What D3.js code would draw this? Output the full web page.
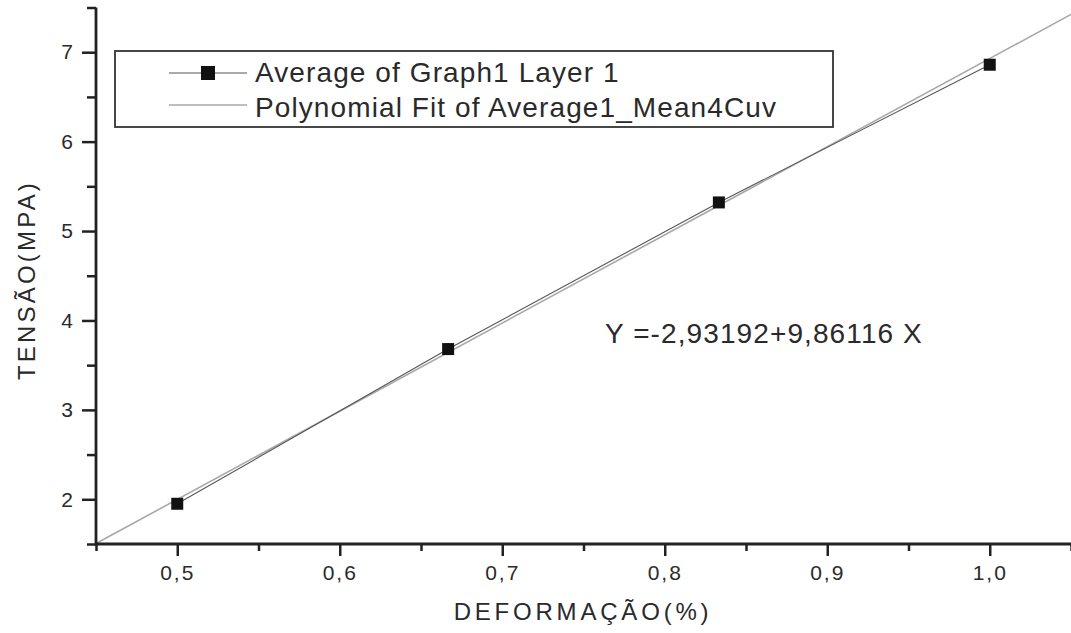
<!DOCTYPE html>
<html>
<head>
<meta charset="utf-8">
<script src="https://cdn.jsdelivr.net/npm/d3@7"></script>
<style>
  html, body { margin: 0; padding: 0; background: #fff; }
  svg { display: block; font-family: "Liberation Sans", Arial, sans-serif; }
</style>
</head>
<body>
<svg id="chart"></svg>
<script>
// Data
const deformacao = [0.5, 0.6667, 0.8333, 1.0];
const tensao = [1.95, 3.68, 5.32, 6.86];
const fitIntercept = -2.93192;
const fitSlope = 9.86116;
const xTicks = [0.5, 0.6, 0.7, 0.8, 0.9, 1.0];
const xMinorTicks = [0.45, 0.55, 0.65, 0.75, 0.85, 0.95, 1.05];
const yTicks = [2, 3, 4, 5, 6, 7];
const yMinorTicks = [1.5, 2.5, 3.5, 4.5, 5.5, 6.5, 7.5];
const legendLabels = ["Average of Graph1 Layer 1", "Polynomial Fit of Average1_Mean4Cuv"];
const equationText = "Y =-2,93192+9,86116 X";

const width = 1071;
const height = 633;
const marginLeft = 96;
const marginBottom = 89;
const marginTop = 7.5;

const x = d3.scaleLinear([0.45, 1.05], [marginLeft, width]);
const y = d3.scaleLinear([1.5, 7.5], [height - marginBottom, marginTop]);

const comma = d => d3.format(".1f")(d).replace(".", ",");

const svg = d3.select("#chart")
    .attr("width", width)
    .attr("height", height)
    .attr("viewBox", [0, 0, width, height]);

const ink = "#222";
const textInk = "#2a2a2a";

// fit line, drawn across the whole x domain
const fitPts = x.domain().map(v => ({ x: v, y: fitIntercept + fitSlope * v }));
svg.append("path")
    .attr("fill", "none")
    .attr("stroke", "#a8a8a8")
    .attr("stroke-width", 1.6)
    .attr("d", d3.line().x(d => x(d.x)).y(d => y(d.y))(fitPts));

// data line
const dataPts = deformacao.map((d, i) => ({ x: d, y: tensao[i] }));
svg.append("path")
    .attr("fill", "none")
    .attr("stroke", "#555")
    .attr("stroke-width", 1.1)
    .attr("d", d3.line().x(d => x(d.x)).y(d => y(d.y))(dataPts));

svg.append("g")
    .selectAll("rect")
    .data(dataPts)
    .join("rect")
    .attr("x", d => x(d.x) - 6)
    .attr("y", d => y(d.y) - 6)
    .attr("width", 12)
    .attr("height", 12)
    .attr("fill", "#111");

// x axis
const xAxisY = height - marginBottom;
svg.append("g")
    .attr("transform", `translate(0,${xAxisY})`)
    .call(d3.axisBottom(x).tickValues(xMinorTicks).tickSize(7).tickFormat(""))
    .call(g => g.select(".domain").remove())
    .call(g => g.selectAll(".tick line").attr("stroke", ink).attr("stroke-width", 2.5));

svg.append("g")
    .attr("transform", `translate(0,${xAxisY})`)
    .call(d3.axisBottom(x).tickValues(xTicks).tickSize(12).tickPadding(9).tickFormat(comma))
    .call(g => g.select(".domain").remove())
    .call(g => g.selectAll(".tick line").attr("stroke", ink).attr("stroke-width", 2.5))
    .call(g => g.selectAll(".tick text")
        .attr("fill", textInk)
        .attr("font-size", 21)
        .attr("letter-spacing", 2)
        .attr("font-family", "Liberation Sans, Arial, sans-serif"));

// y axis
svg.append("g")
    .attr("transform", `translate(${marginLeft},0)`)
    .call(d3.axisLeft(y).tickValues(yMinorTicks).tickSize(9).tickFormat(""))
    .call(g => g.select(".domain").remove())
    .call(g => g.selectAll(".tick line").attr("stroke", ink).attr("stroke-width", 2.5));

svg.append("g")
    .attr("transform", `translate(${marginLeft},0)`)
    .call(d3.axisLeft(y).tickValues(yTicks).tickSize(14).tickPadding(9).tickFormat(d3.format("d")))
    .call(g => g.select(".domain").remove())
    .call(g => g.selectAll(".tick line").attr("stroke", ink).attr("stroke-width", 2.5))
    .call(g => g.selectAll(".tick text")
        .attr("fill", textInk)
        .attr("font-size", 21)
        .attr("font-family", "Liberation Sans, Arial, sans-serif"));

// axis lines
svg.append("line")
    .attr("x1", marginLeft).attr("x2", width)
    .attr("y1", xAxisY).attr("y2", xAxisY)
    .attr("stroke", ink).attr("stroke-width", 2.8);
svg.append("line")
    .attr("x1", marginLeft).attr("x2", marginLeft)
    .attr("y1", y.range()[1]).attr("y2", xAxisY + 1.4)
    .attr("stroke", ink).attr("stroke-width", 2.8);

// axis titles
svg.append("text")
    .attr("x", 583)
    .attr("y", 620)
    .attr("text-anchor", "middle")
    .attr("font-size", 24)
    .attr("letter-spacing", 3.8)
    .attr("fill", textInk)
    .text("DEFORMAÇÃO(%)");

svg.append("text")
    .attr("transform", "translate(35,280) rotate(-90)")
    .attr("text-anchor", "middle")
    .attr("font-size", 24)
    .attr("letter-spacing", 3.2)
    .attr("fill", textInk)
    .text("TENSÃO(MPA)");

// equation
svg.append("text")
    .attr("x", 605)
    .attr("y", 343)
    .attr("font-size", 28)
    .attr("letter-spacing", 1.1)
    .attr("fill", textInk)
    .text(equationText);

// legend
const legend = svg.append("g");
legend.append("rect")
    .attr("x", 115).attr("y", 51)
    .attr("width", 718).attr("height", 76)
    .attr("fill", "#fff")
    .attr("stroke", "#333")
    .attr("stroke-width", 1.8);

legend.append("line")
    .attr("x1", 169).attr("x2", 247)
    .attr("y1", 73).attr("y2", 73)
    .attr("stroke", "#555").attr("stroke-width", 1.2);
legend.append("rect")
    .attr("x", 201).attr("y", 66)
    .attr("width", 14).attr("height", 14)
    .attr("fill", "#111");
legend.append("line")
    .attr("x1", 169).attr("x2", 247)
    .attr("y1", 105).attr("y2", 105)
    .attr("stroke", "#a8a8a8").attr("stroke-width", 1.6);

legend.selectAll("text.lbl")
    .data(legendLabels)
    .join("text")
    .attr("class", "lbl")
    .attr("x", 255)
    .attr("y", (d, i) => 82 + i * 35)
    .attr("font-size", 28)
    .attr("letter-spacing", 1.1)
    .attr("fill", textInk)
    .text(d => d);
</script>
</body>
</html>
